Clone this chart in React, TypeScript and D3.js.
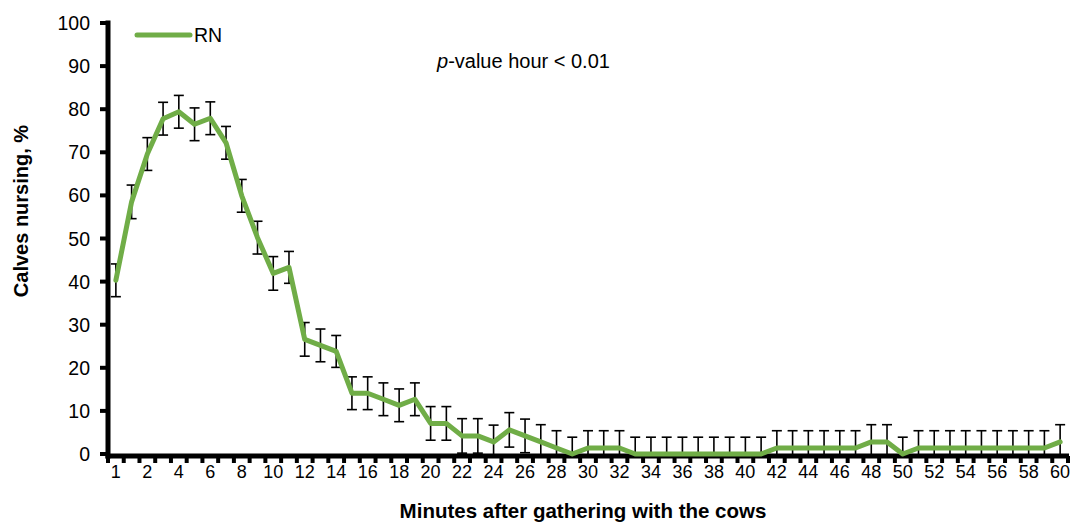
import React from "react";
import * as d3 from "d3";

// x categories (index of each 1-minute point) and the labels shown under the axis
const categories: number[] = d3.range(61);
const xTickLabels = ["1", "2", "4", "6", "8", "10", "12", "14", "16", "18", "20", "22", "24", "26", "28", "30",
  "32", "34", "36", "38", "40", "42", "44", "46", "48", "50", "52", "54", "56", "58", "60"];
const yTicks = [0, 10, 20, 30, 40, 50, 60, 70, 80, 90, 100];

// RN: % calves nursing
const rnValues = [
  40.3, 58.5, 69.6, 77.8, 79.4, 76.5, 77.9, 72.2, 59.9, 50.2,
  41.9, 43.3, 26.6, 25.2, 23.8, 14.1, 14.1, 12.7, 11.3, 12.7,
  7.1, 7.1, 4.2, 4.2, 2.8, 5.6, 4.2, 2.8, 1.4, 0,
  1.4, 1.4, 1.4, 0, 0, 0, 0, 0, 0, 0,
  0, 0, 1.4, 1.4, 1.4, 1.4, 1.4, 1.4, 2.8, 2.8,
  0, 1.4, 1.4, 1.4, 1.4, 1.4, 1.4, 1.4, 1.4, 1.4,
  2.8,
];
// standard errors
const rnErrors = [
  3.8, 3.9, 3.8, 3.8, 3.8, 3.8, 3.8, 3.8, 3.8, 3.8,
  3.9, 3.7, 3.9, 3.8, 3.7, 3.8, 3.8, 3.8, 3.8, 3.8,
  3.9, 3.9, 4.0, 4.0, 3.9, 4.0, 3.9, 4.0, 4.0, 3.9,
  4.0, 4.0, 4.0, 3.9, 3.9, 3.9, 3.9, 3.9, 3.9, 3.9,
  3.9, 3.9, 4.0, 4.0, 4.0, 4.0, 4.0, 4.0, 4.0, 4.0,
  3.9, 4.0, 4.0, 4.0, 4.0, 4.0, 4.0, 4.0, 4.0, 4.0,
  4.0,
];

const W = 1073;
const H = 523;
const FONT = "'Liberation Sans', Arial, sans-serif";
const GREEN = "#70AD47";

export default function App() {
  const x = d3.scalePoint<number>().domain(categories).range([108, 1068]).padding(0.5);
  const step = x.step();
  const y = d3.scaleLinear().domain([0, 100]).range([454, 23]);
  const xl = d3.scalePoint<string>().domain(xTickLabels).range([x(categories[0])!, x(categories[categories.length - 1])!]);

  const line = d3
    .line<number>()
    .x((_, i) => x(categories[i])!)
    .y((d) => y(d));

  const boundaries = categories.map((c) => x(c)! - step / 2).concat([x(categories[categories.length - 1])! + step / 2]);
  const capW = 10;

  return (
    <svg width={W} height={H} style={{ position: "absolute", left: 0, top: 0, background: "#fff" }} fontFamily={FONT}>
      <rect width={W} height={H} fill="#fff" />
      {/* y axis */}
      <line x1={108} x2={108} y1={20.5} y2={458.5} stroke="#000" strokeWidth={5} />
      {yTicks.map((t) => (
        <g key={t}>
          <line x1={100} x2={108} y1={y(t)} y2={y(t)} stroke="#000" strokeWidth={4} />
          <text x={90} y={y(t)} dy="0.36em" textAnchor="end" fontSize={19.5} fill="#000">
            {t}
          </text>
        </g>
      ))}
      {/* x axis */}
      <line x1={105.5} x2={1069} y1={456} y2={456} stroke="#000" strokeWidth={5} />
      {boundaries.map((bx, i) => (
        <line key={i} x1={bx} x2={bx} y1={456} y2={463} stroke="#000" strokeWidth={4} />
      ))}
      {xTickLabels.map((l) => (
        <text key={l} x={xl(l)} y={477.5} textAnchor="middle" fontSize={18} fill="#000">
          {l}
        </text>
      ))}

      {/* error bars */}
      {rnValues.map((v, i) => {
        const cx = x(categories[i])!;
        const e = rnErrors[i];
        const top = y(v + e);
        const lowV = v - e;
        const bot = y(Math.max(0, lowV));
        return (
          <g key={i} stroke="#000" strokeWidth={1.6}>
            <line x1={cx} x2={cx} y1={top} y2={bot} />
            <line x1={cx - capW / 2} x2={cx + capW / 2} y1={top} y2={top} />
            {lowV > 0 && <line x1={cx - capW / 2} x2={cx + capW / 2} y1={bot} y2={bot} />}
          </g>
        );
      })}

      {/* series */}
      <path d={line(rnValues)!} fill="none" stroke={GREEN} strokeWidth={5} strokeLinejoin="round" strokeLinecap="round" />

      {/* legend */}
      <line x1={137} x2={190} y1={35} y2={35} stroke={GREEN} strokeWidth={5} strokeLinecap="round" />
      <text x={194} y={42} fontSize={19.5} fill="#000">RN</text>

      {/* annotation */}
      <text x={437} y={68} fontSize={20} fill="#000">
        <tspan fontStyle="italic">p</tspan>-value hour &lt; 0.01
      </text>

      {/* titles */}
      <text x={583} y={517.5} textAnchor="middle" fontSize={20.5} fontWeight="bold" fill="#000">
        Minutes after gathering with the cows
      </text>
      <text transform="translate(28,211) rotate(-90)" textAnchor="middle" fontSize={20} fontWeight="bold" fill="#000">
        Calves nursing, %
      </text>
    </svg>
  );
}
